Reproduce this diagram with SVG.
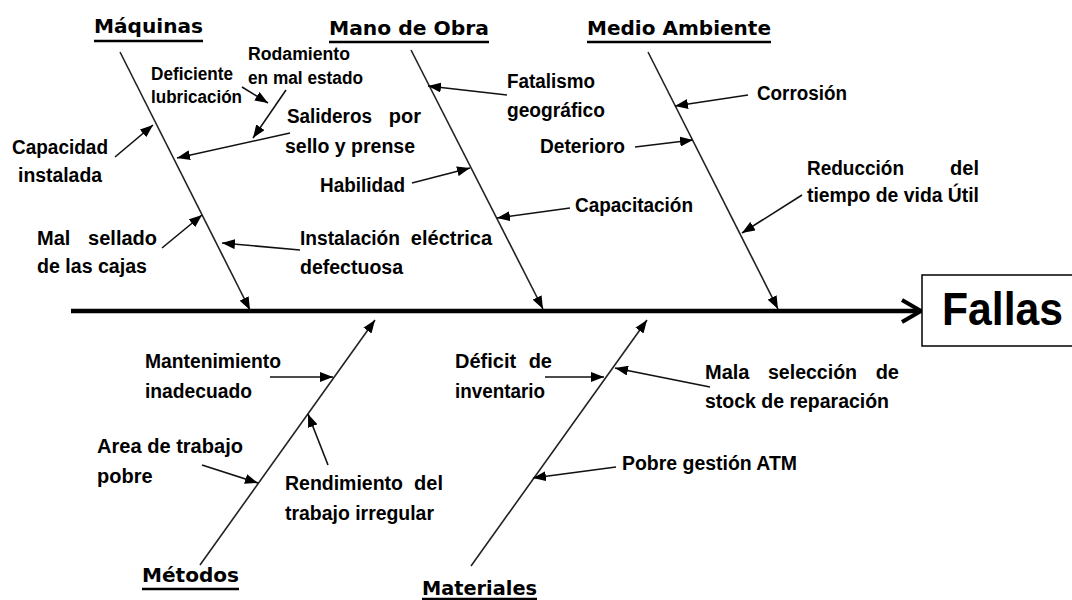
<svg xmlns="http://www.w3.org/2000/svg" width="1072" height="600" viewBox="0 0 1072 600">
<style>
  .lbl { font-family: "Liberation Sans", Arial, sans-serif; font-weight: bold; font-size: 20px; fill: #000; }
  .sm { font-size: 18px; }
  .ttl { font-family: "DejaVu Sans", Verdana, sans-serif; font-weight: bold; font-size: 20px; fill: #000; }
  .ul { stroke: #000; stroke-width: 2.5; }
  .arr { stroke: #111; stroke-width: 1.6; fill: none; marker-end: url(#ah); }
  .bone { stroke: #222; stroke-width: 1.6; fill: none; marker-end: url(#ah); }
</style>
<defs>
  <marker id="ah" markerUnits="userSpaceOnUse" markerWidth="13" markerHeight="10" refX="13" refY="5" orient="auto" viewBox="0 0 13 10">
    <path d="M0,0 L13,5 L0,10 z" fill="#000"/>
  </marker>
</defs>
<rect width="1072" height="600" fill="#fff"/>

<g id="connectors">
  <!-- spine -->
  <line x1="71" y1="311" x2="918" y2="311" stroke="#000" stroke-width="4.5"/>
  <path d="M902,300 L921,311 L902,322" fill="none" stroke="#000" stroke-width="4"/>
  <!-- bones -->
  <line class="bone" x1="120" y1="52" x2="250" y2="310"/>
  <line class="bone" x1="411" y1="50" x2="543" y2="309"/>
  <line class="bone" x1="648" y1="52" x2="778" y2="309"/>
  <line class="bone" x1="200" y1="565" x2="375" y2="320"/>
  <line class="bone" x1="471" y1="566" x2="647" y2="320"/>
  <!-- Maquinas causes -->
  <line class="arr" x1="115" y1="157" x2="153" y2="125"/>
  <line class="arr" x1="242" y1="87" x2="268" y2="103"/>
  <line class="arr" x1="286" y1="90" x2="253" y2="138"/>
  <line class="arr" x1="290" y1="133" x2="177" y2="158"/>
  <line class="arr" x1="162" y1="248" x2="202" y2="215"/>
  <line class="arr" x1="300" y1="250" x2="222" y2="243"/>
  <!-- Mano de obra causes -->
  <line class="arr" x1="507" y1="95" x2="428" y2="86"/>
  <line class="arr" x1="412" y1="183" x2="470" y2="168"/>
  <line class="arr" x1="570" y1="208" x2="497" y2="218"/>
  <!-- Medio ambiente causes -->
  <line class="arr" x1="748" y1="95" x2="675" y2="106"/>
  <line class="arr" x1="635" y1="147" x2="693" y2="140"/>
  <line class="arr" x1="802" y1="195" x2="742" y2="233"/>
  <!-- Metodos causes -->
  <line class="arr" x1="270" y1="377" x2="333" y2="377"/>
  <line class="arr" x1="202" y1="465" x2="258" y2="483"/>
  <line class="arr" x1="328" y1="465" x2="308" y2="414"/>
  <!-- Materiales causes -->
  <line class="arr" x1="545" y1="377" x2="604" y2="377"/>
  <line class="arr" x1="710" y1="387" x2="615" y2="368"/>
  <line class="arr" x1="616" y1="467" x2="533" y2="478"/>
</g>

<g id="effect-fallas">
  <rect x="922" y="275" width="160" height="71" fill="#fff" stroke="#000" stroke-width="1.5"/>
  <text x="942" y="325" class="lbl" style="font-size:46px" textLength="121" lengthAdjust="spacingAndGlyphs">Fallas</text>
</g>

<g id="cat-maquinas">
  <text x="94" y="33" class="ttl" textLength="109" lengthAdjust="spacingAndGlyphs">Máquinas</text>
  <line class="ul" x1="94" y1="41" x2="203" y2="41"/>
</g>
<g id="cat-mano-de-obra">
  <text x="329" y="35" class="ttl" textLength="160" lengthAdjust="spacingAndGlyphs">Mano de Obra</text>
  <line class="ul" x1="329" y1="42" x2="489" y2="42"/>
</g>
<g id="cat-medio-ambiente">
  <text x="587" y="35" class="ttl" textLength="184" lengthAdjust="spacingAndGlyphs">Medio Ambiente</text>
  <line class="ul" x1="587" y1="42" x2="771" y2="42"/>
</g>
<g id="cat-metodos">
  <text x="142" y="582" class="ttl" textLength="97" lengthAdjust="spacingAndGlyphs">Métodos</text>
  <line class="ul" x1="142" y1="589" x2="239" y2="589"/>
</g>
<g id="cat-materiales">
  <text x="422" y="595" class="ttl" textLength="115" lengthAdjust="spacingAndGlyphs">Materiales</text>
  <line class="ul" x1="422" y1="599" x2="537" y2="599"/>
</g>

<g id="cause-capacidad">
  <text x="12" y="154" class="lbl" textLength="96" lengthAdjust="spacingAndGlyphs">Capacidad</text>
  <text x="18" y="182" class="lbl" textLength="84" lengthAdjust="spacingAndGlyphs">instalada</text>
</g>
<g id="cause-deficiente">
  <text x="151" y="80" class="lbl sm" textLength="82" lengthAdjust="spacingAndGlyphs">Deficiente</text>
  <text x="151" y="103" class="lbl sm" textLength="91" lengthAdjust="spacingAndGlyphs">lubricación</text>
</g>
<g id="cause-rodamiento">
  <text x="248" y="60" class="lbl sm" textLength="102" lengthAdjust="spacingAndGlyphs">Rodamiento</text>
  <text x="248" y="84" class="lbl sm" textLength="115" lengthAdjust="spacingAndGlyphs">en mal estado</text>
</g>
<g id="cause-salideros">
  <text x="287" y="123" class="lbl" textLength="85" lengthAdjust="spacingAndGlyphs">Salideros</text>
  <text x="421" y="123" class="lbl" text-anchor="end">por</text>
  <text x="285" y="153" class="lbl" textLength="130" lengthAdjust="spacingAndGlyphs">sello y prense</text>
</g>
<g id="cause-mal-sellado">
  <text x="37" y="245" class="lbl">Mal</text>
  <text x="157" y="245" class="lbl" text-anchor="end">sellado</text>
  <text x="37" y="273" class="lbl" textLength="110" lengthAdjust="spacingAndGlyphs">de las cajas</text>
</g>
<g id="cause-instalacion">
  <text x="300" y="245" class="lbl" textLength="100" lengthAdjust="spacingAndGlyphs">Instalación</text>
  <text x="492" y="245" class="lbl" text-anchor="end">eléctrica</text>
  <text x="300" y="274" class="lbl" textLength="103" lengthAdjust="spacingAndGlyphs">defectuosa</text>
</g>
<g id="cause-fatalismo">
  <text x="507" y="88" class="lbl" textLength="88" lengthAdjust="spacingAndGlyphs">Fatalismo</text>
  <text x="507" y="117" class="lbl" textLength="98" lengthAdjust="spacingAndGlyphs">geográfico</text>
</g>
<g id="cause-habilidad">
  <text x="320" y="192" class="lbl" textLength="85" lengthAdjust="spacingAndGlyphs">Habilidad</text>
</g>
<g id="cause-capacitacion">
  <text x="575" y="212" class="lbl" textLength="118" lengthAdjust="spacingAndGlyphs">Capacitación</text>
</g>
<g id="cause-corrosion">
  <text x="757" y="100" class="lbl" textLength="90" lengthAdjust="spacingAndGlyphs">Corrosión</text>
</g>
<g id="cause-deterioro">
  <text x="540" y="153" class="lbl" textLength="85" lengthAdjust="spacingAndGlyphs">Deterioro</text>
</g>
<g id="cause-reduccion">
  <text x="807" y="175" class="lbl" textLength="97" lengthAdjust="spacingAndGlyphs">Reducción</text>
  <text x="979" y="175" class="lbl" text-anchor="end">del</text>
  <text x="807" y="202" class="lbl" textLength="172" lengthAdjust="spacingAndGlyphs">tiempo de vida Útil</text>
</g>
<g id="cause-mantenimiento">
  <text x="145" y="368" class="lbl" textLength="136" lengthAdjust="spacingAndGlyphs">Mantenimiento</text>
  <text x="145" y="398" class="lbl" textLength="107" lengthAdjust="spacingAndGlyphs">inadecuado</text>
</g>
<g id="cause-area">
  <text x="97" y="453" class="lbl" textLength="146" lengthAdjust="spacingAndGlyphs">Area de trabajo</text>
  <text x="97" y="483" class="lbl">pobre</text>
</g>
<g id="cause-rendimiento">
  <text x="285" y="490" class="lbl" textLength="118" lengthAdjust="spacingAndGlyphs">Rendimiento</text>
  <text x="443" y="490" class="lbl" text-anchor="end">del</text>
  <text x="285" y="520" class="lbl" textLength="149" lengthAdjust="spacingAndGlyphs">trabajo irregular</text>
</g>
<g id="cause-deficit">
  <text x="455" y="368" class="lbl">Déficit</text>
  <text x="552" y="368" class="lbl" text-anchor="end">de</text>
  <text x="455" y="398" class="lbl" textLength="90" lengthAdjust="spacingAndGlyphs">inventario</text>
</g>
<g id="cause-mala-seleccion">
  <text x="705" y="379" class="lbl">Mala</text>
  <text x="768" y="379" class="lbl" textLength="89" lengthAdjust="spacingAndGlyphs">selección</text>
  <text x="899" y="379" class="lbl" text-anchor="end">de</text>
  <text x="705" y="408" class="lbl" textLength="184" lengthAdjust="spacingAndGlyphs">stock de reparación</text>
</g>
<g id="cause-pobre-gestion">
  <text x="622" y="470" class="lbl" textLength="175" lengthAdjust="spacingAndGlyphs">Pobre gestión ATM</text>
</g>
</svg>
